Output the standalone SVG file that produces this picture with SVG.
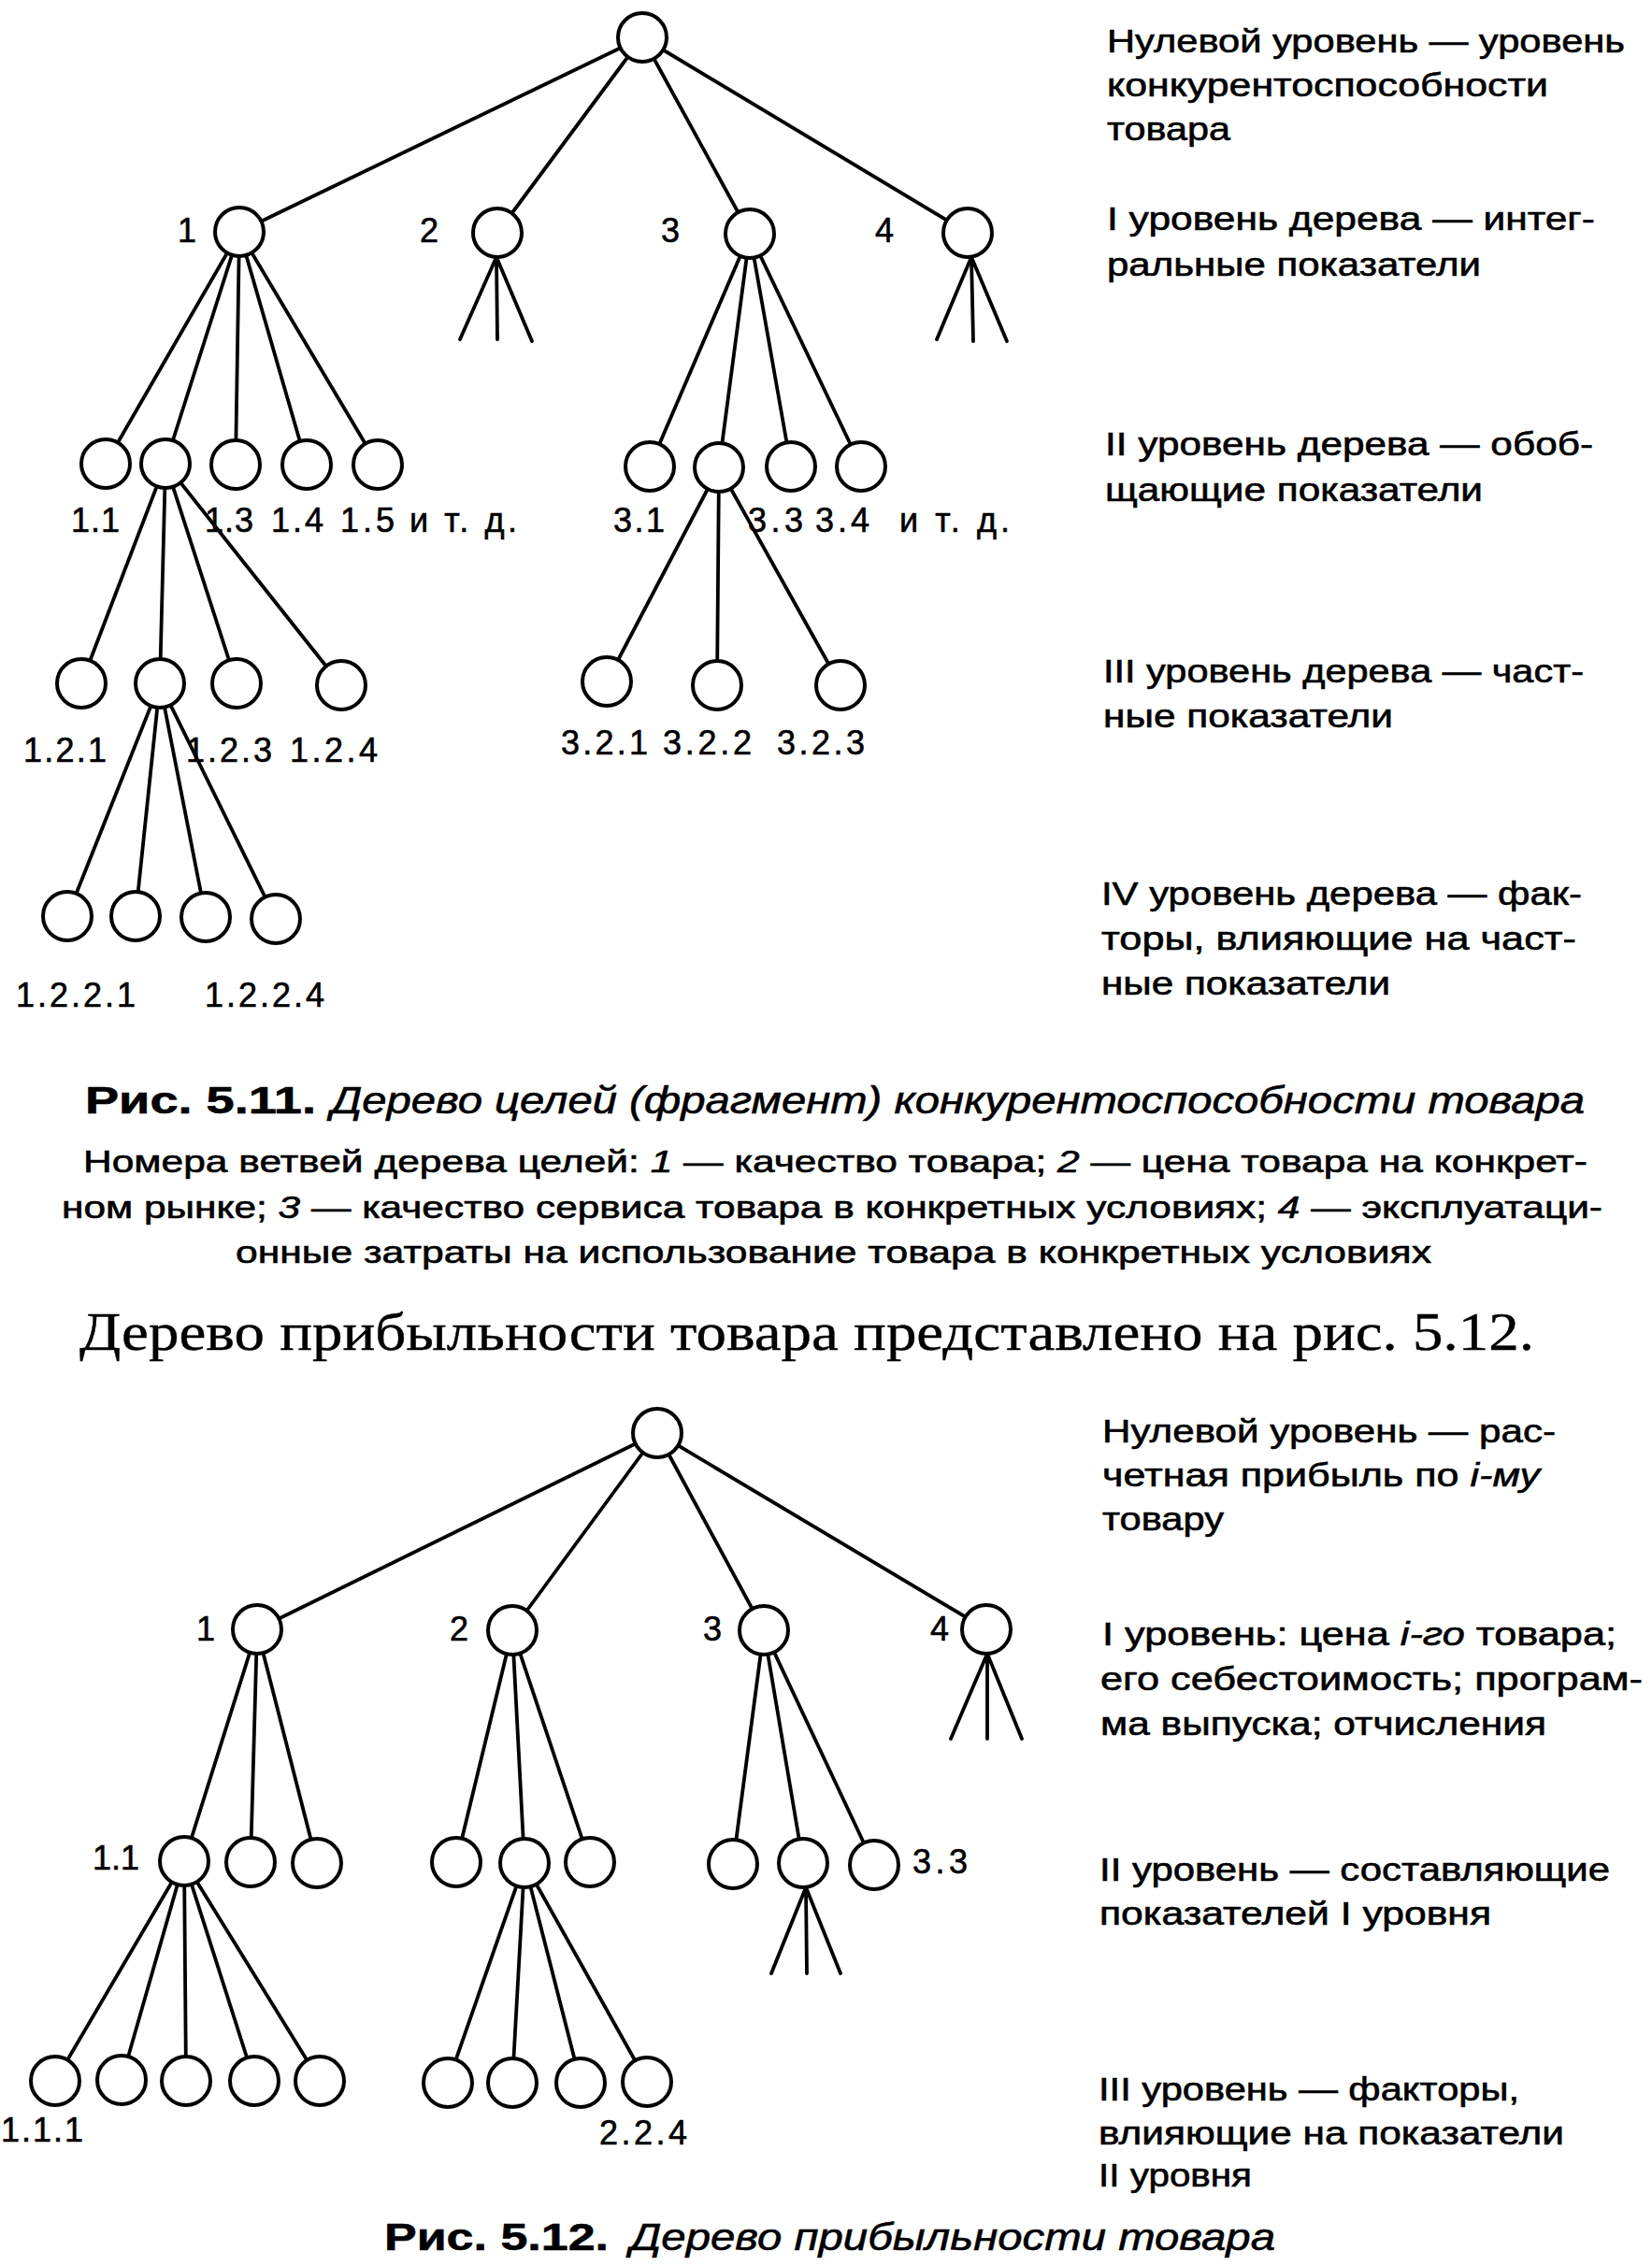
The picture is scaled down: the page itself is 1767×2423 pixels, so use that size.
<svg xmlns="http://www.w3.org/2000/svg" width="1767" height="2423" viewBox="0 0 1767 2423">
<style>
.edge{stroke:#000;stroke-width:3.8;fill:none;stroke-linecap:round}
.node{fill:#fff;stroke:#000;stroke-width:4}
text{font-family:"Liberation Sans",Arial,sans-serif;fill:#000;stroke:#000;stroke-width:0.6}
.lbl{font-size:36px}
.desc{font-size:35px}
.note{font-size:33px}
.cap{font-size:41px}
.b{font-weight:bold}
.i{font-style:italic}
.serif{font-family:"Liberation Serif","Times New Roman",serif;font-size:57px;stroke-width:0.4}
</style>
<rect width="1767" height="2423" fill="#fff"/>

<!-- ================= TREE 1 ================= -->
<g id="tree1-connectors">
  <line class="edge" x1="687" y1="40" x2="256" y2="248"/>
  <line class="edge" x1="687" y1="40" x2="532" y2="249"/>
  <line class="edge" x1="687" y1="40" x2="802" y2="250"/>
  <line class="edge" x1="687" y1="40" x2="1035" y2="249"/>
  <line class="edge" x1="531" y1="275" x2="492" y2="363"/>
  <line class="edge" x1="531" y1="275" x2="532" y2="363"/>
  <line class="edge" x1="531" y1="275" x2="569" y2="365"/>
  <line class="edge" x1="1039" y1="275" x2="1002" y2="363"/>
  <line class="edge" x1="1039" y1="275" x2="1041" y2="365"/>
  <line class="edge" x1="1039" y1="275" x2="1077" y2="365"/>
  <line class="edge" x1="256" y1="248" x2="113" y2="496"/>
  <line class="edge" x1="256" y1="248" x2="177" y2="496"/>
  <line class="edge" x1="256" y1="248" x2="252" y2="497"/>
  <line class="edge" x1="256" y1="248" x2="328" y2="497"/>
  <line class="edge" x1="256" y1="248" x2="404" y2="497"/>
  <line class="edge" x1="802" y1="250" x2="695" y2="499"/>
  <line class="edge" x1="802" y1="250" x2="769" y2="500"/>
  <line class="edge" x1="802" y1="250" x2="846" y2="499"/>
  <line class="edge" x1="802" y1="250" x2="921" y2="499"/>
  <line class="edge" x1="177" y1="496" x2="87" y2="731"/>
  <line class="edge" x1="177" y1="496" x2="171" y2="731"/>
  <line class="edge" x1="177" y1="496" x2="253" y2="731"/>
  <line class="edge" x1="177" y1="496" x2="365" y2="733"/>
  <line class="edge" x1="769" y1="500" x2="649" y2="729"/>
  <line class="edge" x1="769" y1="500" x2="767" y2="733"/>
  <line class="edge" x1="769" y1="500" x2="899" y2="733"/>
  <line class="edge" x1="171" y1="731" x2="72" y2="980"/>
  <line class="edge" x1="171" y1="731" x2="145" y2="980"/>
  <line class="edge" x1="171" y1="731" x2="220" y2="981"/>
  <line class="edge" x1="171" y1="731" x2="295" y2="983"/>
</g>

<g id="t1-root"><circle class="node" cx="687" cy="40" r="26"/></g>
<g id="t1-n1"><circle class="node" cx="256" cy="248" r="26"/><text class="lbl" x="190" y="259">1</text></g>
<g id="t1-n2"><circle class="node" cx="532" cy="249" r="26"/><text class="lbl" x="449" y="259">2</text></g>
<g id="t1-n3"><circle class="node" cx="802" cy="250" r="26"/><text class="lbl" x="707" y="259">3</text></g>
<g id="t1-n4"><circle class="node" cx="1035" cy="249" r="26"/><text class="lbl" x="936" y="259">4</text></g>

<g id="t1-n1-1"><circle class="node" cx="113" cy="496" r="26"/><text class="lbl" x="76" y="569" textLength="52" lengthAdjust="spacing">1.1</text></g>
<g id="t1-n1-2"><circle class="node" cx="177" cy="496" r="26"/></g>
<g id="t1-n1-3"><circle class="node" cx="252" cy="497" r="26"/><text class="lbl" x="219" y="569" textLength="52" lengthAdjust="spacing">1.3</text></g>
<g id="t1-n1-4"><circle class="node" cx="328" cy="497" r="26"/><text class="lbl" x="290" y="569" textLength="56" lengthAdjust="spacing">1.4</text></g>
<g id="t1-n1-5"><circle class="node" cx="404" cy="497" r="26"/><text class="lbl" x="364" y="569" textLength="58" lengthAdjust="spacing">1.5</text></g>
<text id="t1-etc1" class="lbl" x="438" y="569" textLength="115" lengthAdjust="spacing">и т. д.</text>

<g id="t1-n3-1"><circle class="node" cx="695" cy="499" r="26"/><text class="lbl" x="656" y="569" textLength="55" lengthAdjust="spacing">3.1</text></g>
<g id="t1-n3-2"><circle class="node" cx="769" cy="500" r="26"/></g>
<g id="t1-n3-3"><circle class="node" cx="846" cy="499" r="26"/><text class="lbl" x="800" y="569" textLength="59" lengthAdjust="spacing">3.3</text></g>
<g id="t1-n3-4"><circle class="node" cx="921" cy="499" r="26"/><text class="lbl" x="872" y="569" textLength="58" lengthAdjust="spacing">3.4</text></g>
<text id="t1-etc2" class="lbl" x="962" y="569" textLength="118" lengthAdjust="spacing">и т. д.</text>

<g id="t1-n1-2-1"><circle class="node" cx="87" cy="731" r="26"/><text class="lbl" x="25" y="815" textLength="89" lengthAdjust="spacing">1.2.1</text></g>
<g id="t1-n1-2-2"><circle class="node" cx="171" cy="731" r="26"/></g>
<g id="t1-n1-2-3"><circle class="node" cx="253" cy="731" r="26"/><text class="lbl" x="199" y="815" textLength="92" lengthAdjust="spacing">1.2.3</text></g>
<g id="t1-n1-2-4"><circle class="node" cx="365" cy="733" r="26"/><text class="lbl" x="310" y="815" textLength="94" lengthAdjust="spacing">1.2.4</text></g>

<g id="t1-n3-2-1"><circle class="node" cx="649" cy="729" r="26"/><text class="lbl" x="600" y="807" textLength="93" lengthAdjust="spacing">3.2.1</text></g>
<g id="t1-n3-2-2"><circle class="node" cx="767" cy="733" r="26"/><text class="lbl" x="709" y="807" textLength="95" lengthAdjust="spacing">3.2.2</text></g>
<g id="t1-n3-2-3"><circle class="node" cx="899" cy="733" r="26"/><text class="lbl" x="831" y="807" textLength="94" lengthAdjust="spacing">3.2.3</text></g>

<g id="t1-n1-2-2-1"><circle class="node" cx="72" cy="980" r="26"/><text class="lbl" x="17" y="1077" textLength="128" lengthAdjust="spacing">1.2.2.1</text></g>
<g id="t1-n1-2-2-2"><circle class="node" cx="145" cy="980" r="26"/></g>
<g id="t1-n1-2-2-3"><circle class="node" cx="220" cy="981" r="26"/></g>
<g id="t1-n1-2-2-4"><circle class="node" cx="295" cy="983" r="26"/><text class="lbl" x="219" y="1077" textLength="128" lengthAdjust="spacing">1.2.2.4</text></g>

<g id="t1-legend">
  <text class="desc" x="1184" y="56" textLength="554" lengthAdjust="spacingAndGlyphs">Нулевой уровень — уровень</text>
  <text class="desc" x="1184" y="103" textLength="472" lengthAdjust="spacingAndGlyphs">конкурентоспособности</text>
  <text class="desc" x="1184" y="150" textLength="132" lengthAdjust="spacingAndGlyphs">товара</text>
  <text class="desc" x="1184" y="246" textLength="522" lengthAdjust="spacingAndGlyphs">I уровень дерева — интег-</text>
  <text class="desc" x="1184" y="295" textLength="400" lengthAdjust="spacingAndGlyphs">ральные показатели</text>
  <text class="desc" x="1182" y="487" textLength="522" lengthAdjust="spacingAndGlyphs">II уровень дерева — обоб-</text>
  <text class="desc" x="1182" y="536" textLength="404" lengthAdjust="spacingAndGlyphs">щающие показатели</text>
  <text class="desc" x="1180" y="730" textLength="514" lengthAdjust="spacingAndGlyphs">III уровень дерева — част-</text>
  <text class="desc" x="1180" y="778" textLength="310" lengthAdjust="spacingAndGlyphs">ные показатели</text>
  <text class="desc" x="1178" y="968" textLength="514" lengthAdjust="spacingAndGlyphs">IV уровень дерева — фак-</text>
  <text class="desc" x="1178" y="1016" textLength="508" lengthAdjust="spacingAndGlyphs">торы, влияющие на част-</text>
  <text class="desc" x="1178" y="1064" textLength="309" lengthAdjust="spacingAndGlyphs">ные показатели</text>
</g>

<g id="caption1">
  <text class="cap b" x="91" y="1191" textLength="247" lengthAdjust="spacingAndGlyphs">Рис. 5.11.</text>
  <text class="cap i" x="354" y="1191" textLength="1341" lengthAdjust="spacingAndGlyphs">Дерево целей (фрагмент) конкурентоспособности товара</text>
  <text class="note" x="89" y="1254" textLength="1609" lengthAdjust="spacingAndGlyphs">Номера ветвей дерева целей: <tspan class="i">1</tspan> — качество товара; <tspan class="i">2</tspan> — цена товара на конкрет-</text>
  <text class="note" x="66" y="1303" textLength="1648" lengthAdjust="spacingAndGlyphs">ном рынке; <tspan class="i">3</tspan> — качество сервиса товара в конкретных условиях; <tspan class="i">4</tspan> — эксплуатаци-</text>
  <text class="note" x="252" y="1351" textLength="1279" lengthAdjust="spacingAndGlyphs">онные затраты на использование товара в конкретных условиях</text>
</g>

<text id="body-text" class="serif" x="85" y="1444" textLength="1556" lengthAdjust="spacingAndGlyphs">Дерево прибыльности товара представлено на рис. 5.12.</text>

<!-- ================= TREE 2 ================= -->
<g id="tree2-connectors">
  <line class="edge" x1="703" y1="1533" x2="275" y2="1743"/>
  <line class="edge" x1="703" y1="1533" x2="548" y2="1744"/>
  <line class="edge" x1="703" y1="1533" x2="817" y2="1744"/>
  <line class="edge" x1="703" y1="1533" x2="1055" y2="1743"/>
  <line class="edge" x1="1056" y1="1769" x2="1017" y2="1860"/>
  <line class="edge" x1="1056" y1="1769" x2="1056" y2="1860"/>
  <line class="edge" x1="1056" y1="1769" x2="1093" y2="1860"/>
  <line class="edge" x1="275" y1="1743" x2="197" y2="1991"/>
  <line class="edge" x1="275" y1="1743" x2="268" y2="1992"/>
  <line class="edge" x1="275" y1="1743" x2="339" y2="1993"/>
  <line class="edge" x1="548" y1="1744" x2="488" y2="1992"/>
  <line class="edge" x1="548" y1="1744" x2="561" y2="1993"/>
  <line class="edge" x1="548" y1="1744" x2="631" y2="1992"/>
  <line class="edge" x1="817" y1="1744" x2="784" y2="1994"/>
  <line class="edge" x1="817" y1="1744" x2="859" y2="1993"/>
  <line class="edge" x1="817" y1="1744" x2="935" y2="1995"/>
  <line class="edge" x1="862" y1="2019" x2="825" y2="2111"/>
  <line class="edge" x1="862" y1="2019" x2="863" y2="2111"/>
  <line class="edge" x1="862" y1="2019" x2="899" y2="2111"/>
  <line class="edge" x1="197" y1="1991" x2="59" y2="2226"/>
  <line class="edge" x1="197" y1="1991" x2="130" y2="2225"/>
  <line class="edge" x1="197" y1="1991" x2="199" y2="2226"/>
  <line class="edge" x1="197" y1="1991" x2="272" y2="2226"/>
  <line class="edge" x1="197" y1="1991" x2="342" y2="2226"/>
  <line class="edge" x1="561" y1="1993" x2="479" y2="2228"/>
  <line class="edge" x1="561" y1="1993" x2="548" y2="2228"/>
  <line class="edge" x1="561" y1="1993" x2="621" y2="2228"/>
  <line class="edge" x1="561" y1="1993" x2="692" y2="2227"/>
</g>

<g id="t2-root"><circle class="node" cx="703" cy="1533" r="26"/></g>
<g id="t2-n1"><circle class="node" cx="275" cy="1743" r="26"/><text class="lbl" x="210" y="1755">1</text></g>
<g id="t2-n2"><circle class="node" cx="548" cy="1744" r="26"/><text class="lbl" x="481" y="1755">2</text></g>
<g id="t2-n3"><circle class="node" cx="817" cy="1744" r="26"/><text class="lbl" x="752" y="1755">3</text></g>
<g id="t2-n4"><circle class="node" cx="1055" cy="1743" r="26"/><text class="lbl" x="995" y="1755">4</text></g>

<g id="t2-n1-1"><circle class="node" cx="197" cy="1991" r="26"/><text class="lbl" x="99" y="2000" textLength="50" lengthAdjust="spacing">1.1</text></g>
<g id="t2-n1-2"><circle class="node" cx="268" cy="1992" r="26"/></g>
<g id="t2-n1-3"><circle class="node" cx="339" cy="1993" r="26"/></g>
<g id="t2-n2-1"><circle class="node" cx="488" cy="1992" r="26"/></g>
<g id="t2-n2-2"><circle class="node" cx="561" cy="1993" r="26"/></g>
<g id="t2-n2-3"><circle class="node" cx="631" cy="1992" r="26"/></g>
<g id="t2-n3-1"><circle class="node" cx="784" cy="1994" r="26"/></g>
<g id="t2-n3-2"><circle class="node" cx="859" cy="1993" r="26"/></g>
<g id="t2-n3-3"><circle class="node" cx="935" cy="1995" r="26"/><text class="lbl" x="976" y="2004" textLength="59" lengthAdjust="spacing">3.3</text></g>

<g id="t2-n1-1-1"><circle class="node" cx="59" cy="2226" r="26"/><text class="lbl" x="1" y="2291" textLength="88" lengthAdjust="spacing">1.1.1</text></g>
<g id="t2-n1-1-2"><circle class="node" cx="130" cy="2225" r="26"/></g>
<g id="t2-n1-1-3"><circle class="node" cx="199" cy="2226" r="26"/></g>
<g id="t2-n1-1-4"><circle class="node" cx="272" cy="2226" r="26"/></g>
<g id="t2-n1-1-5"><circle class="node" cx="342" cy="2226" r="26"/></g>
<g id="t2-n2-2-1"><circle class="node" cx="479" cy="2228" r="26"/></g>
<g id="t2-n2-2-2"><circle class="node" cx="548" cy="2228" r="26"/></g>
<g id="t2-n2-2-3"><circle class="node" cx="621" cy="2228" r="26"/></g>
<g id="t2-n2-2-4"><circle class="node" cx="692" cy="2227" r="26"/><text class="lbl" x="641" y="2294" textLength="94" lengthAdjust="spacing">2.2.4</text></g>

<g id="t2-legend">
  <text class="desc" x="1179" y="1543" textLength="485" lengthAdjust="spacingAndGlyphs">Нулевой уровень — рас-</text>
  <text class="desc" x="1179" y="1590" textLength="468" lengthAdjust="spacingAndGlyphs">четная прибыль по <tspan class="i">i-му</tspan></text>
  <text class="desc" x="1179" y="1637" textLength="130" lengthAdjust="spacingAndGlyphs">товару</text>
  <text class="desc" x="1179" y="1760" textLength="550" lengthAdjust="spacingAndGlyphs">I уровень: цена <tspan class="i">i-го</tspan> товара;</text>
  <text class="desc" x="1177" y="1808" textLength="580" lengthAdjust="spacingAndGlyphs">его себестоимость; програм-</text>
  <text class="desc" x="1177" y="1856" textLength="477" lengthAdjust="spacingAndGlyphs">ма выпуска; отчисления</text>
  <text class="desc" x="1176" y="2012" textLength="546" lengthAdjust="spacingAndGlyphs">II уровень — составляющие</text>
  <text class="desc" x="1176" y="2059" textLength="419" lengthAdjust="spacingAndGlyphs">показателей I уровня</text>
  <text class="desc" x="1175" y="2247" textLength="450" lengthAdjust="spacingAndGlyphs">III уровень — факторы,</text>
  <text class="desc" x="1175" y="2294" textLength="498" lengthAdjust="spacingAndGlyphs">влияющие на показатели</text>
  <text class="desc" x="1175" y="2339" textLength="164" lengthAdjust="spacingAndGlyphs">II уровня</text>
</g>

<g id="caption2">
  <text class="cap b" x="411" y="2407" textLength="240" lengthAdjust="spacingAndGlyphs">Рис. 5.12.</text>
  <text class="cap i" x="674" y="2407" textLength="690" lengthAdjust="spacingAndGlyphs">Дерево прибыльности товара</text>
</g>
</svg>
